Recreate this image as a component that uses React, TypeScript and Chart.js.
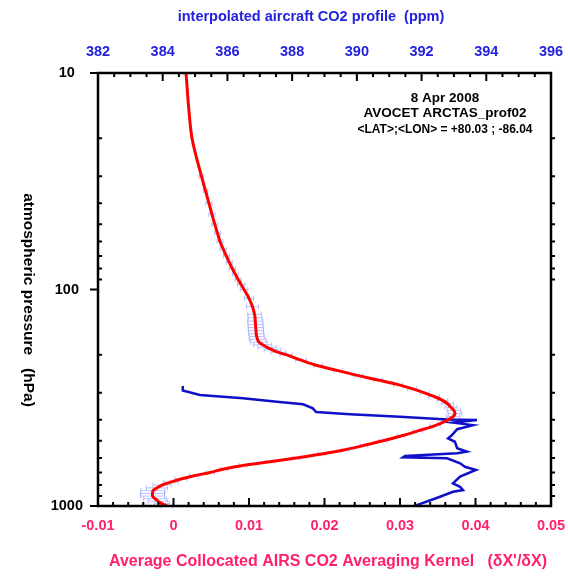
import React, { useEffect, useRef } from 'react';
import { Chart, registerables } from 'chart.js';

Chart.register(...registerables);

// Averaging kernel profile (bottom axis), pressure levels in hPa
const akPressure = [10, 15, 20, 30, 35, 40, 45, 50, 55, 60, 65, 70, 75, 80, 85, 90, 95, 100, 110, 120, 130, 135, 140, 145, 150, 155, 160, 165, 170, 175, 180, 185, 190, 195, 200, 212, 225, 237, 250, 262, 275, 287, 300, 312, 325, 337, 350, 362, 375, 387, 400, 425, 450, 475, 500, 525, 550, 575, 600, 625, 650, 675, 700, 725, 750, 775, 800, 825, 850, 875, 900, 925, 950, 975, 1000];
const akValues = [0.00166, 0.00205, 0.00245, 0.00371, 0.00424, 0.0047, 0.0051, 0.00547, 0.00583, 0.00616, 0.00658, 0.007, 0.00739, 0.00779, 0.00819, 0.00857, 0.00897, 0.00934, 0.01, 0.01046, 0.01073, 0.0108, 0.01083, 0.01086, 0.01089, 0.01093, 0.01095, 0.01103, 0.01113, 0.01132, 0.01182, 0.01238, 0.01311, 0.0139, 0.0149, 0.01689, 0.01914, 0.02179, 0.0245, 0.02709, 0.02974, 0.03159, 0.03325, 0.0345, 0.03563, 0.03629, 0.03675, 0.03715, 0.03728, 0.03702, 0.03636, 0.03464, 0.03238, 0.03013, 0.02775, 0.02523, 0.02272, 0.01967, 0.01623, 0.01278, 0.00921, 0.00669, 0.00483, 0.00272, 0.00099, -0.00033, -0.00152, -0.00219, -0.00272, -0.00278, -0.00278, -0.00245, -0.00205, -0.00152, -0.00086];
const akErrors = [0, 0, 0, 0.0003, 0.0003, 0.0004, 0.0004, 0.0004, 0.0004, 0.0004, 0.0004, 0.0004, 0.0004, 0.0004, 0.0004, 0.0004, 0.0005, 0.0005, 0.0006, 0.0008, 0.0009, 0.0009, 0.001, 0.001, 0.001, 0.001, 0.001, 0.001, 0.0011, 0.0011, 0.0012, 0.0012, 0.0011, 0.001, 0.0008, 0.0007, 0.0006, 0.0006, 0.0006, 0.0006, 0.0006, 0.0006, 0.0006, 0.0007, 0.0007, 0.0008, 0.0008, 0.0009, 0.0009, 0.0009, 0.0008, 0.0007, 0.0006, 0.0005, 0.0005, 0.0005, 0.0005, 0.0005, 0.0005, 0.0005, 0.0005, 0.0005, 0.0006, 0.0006, 0.0008, 0.001, 0.0012, 0.0014, 0.0016, 0.0016, 0.0016, 0.0015, 0.0013, 0.001, 0.0008];

// Interpolated aircraft CO2 profile (top axis)
const co2Pressure = [279, 293, 307, 318, 330, 339, 354, 368, 377, 387, 399, 401, 412, 423, 442, 470, 487, 505, 541, 561, 571, 588, 596, 602, 635, 659, 682, 732, 786, 815, 844, 859, 906, 990, 1000];
const co2Values = [384.62, 384.62, 385.15, 386.48, 387.53, 388.34, 388.64, 388.74, 389.79, 391.33, 392.79, 393.71, 392.97, 393.59, 393.1, 392.94, 392.82, 393.03, 393.1, 393.4, 393.1, 391.49, 391.43, 392.79, 393.19, 393.34, 393.68, 393.19, 392.97, 393.19, 393.28, 392.97, 392.57, 391.86, 391.83];

const kernelTicks = [-0.01, 0, 0.01, 0.02, 0.03, 0.04, 0.05];
const co2Ticks = [382, 384, 386, 388, 390, 392, 394, 396];
const pressureTicks = [10, 100, 1000];

const topTitle = 'interpolated aircraft CO2 profile  (ppm)';
const bottomTitle = "Average Collocated AIRS CO2 Averaging Kernel   (\u03B4X'/\u03B4X)";
const yTitle = 'atmospheric pressure   (hPa)';
const annotationLines = ['8 Apr 2008', 'AVOCET ARCTAS_prof02', '<LAT>;<LON> = +80.03 ; -86.04'];

const FAMILY = '"Liberation Sans", Arial, Helvetica, sans-serif';
const BLUE = '#2222dd';
const PINK = '#ff1f6a';
const RED = '#ff0000';
const LINE_BLUE = '#1010c8';
const ERR_COLOR = 'rgba(150,160,255,0.65)';

const errorBarsPlugin = {
  id: 'errorBars',
  beforeDatasetsDraw(chart: any) {
    const { ctx, scales } = chart;
    const xs = scales.x;
    const ys = scales.y;
    ctx.save();
    ctx.strokeStyle = ERR_COLOR;
    ctx.lineWidth = 1;
    ctx.beginPath();
    akPressure.forEach((p, i) => {
      const e = akErrors[i];
      if (!e) return;
      const py = ys.getPixelForValue(p);
      const x1 = xs.getPixelForValue(akValues[i] - e);
      const x2 = xs.getPixelForValue(akValues[i] + e);
      ctx.moveTo(x1, py);
      ctx.lineTo(x2, py);
      ctx.moveTo(x1, py - 2.5);
      ctx.lineTo(x1, py + 2.5);
      ctx.moveTo(x2, py - 2.5);
      ctx.lineTo(x2, py + 2.5);
    });
    ctx.stroke();
    ctx.restore();
  },
};

const frameTicksPlugin = {
  id: 'frameTicks',
  afterDatasetsDraw(chart: any) {
    const { ctx, chartArea: a, scales } = chart;
    const xs = scales.x;
    const xt = scales.x2;
    const ys = scales.y;
    ctx.save();
    ctx.strokeStyle = '#000';
    ctx.lineCap = 'butt';
    ctx.lineWidth = 2;
    ctx.beginPath();
    for (let i = 0; i <= 30; i++) {
      const px = xs.getPixelForValue(-0.01 + i * 0.002);
      const len = i % 5 === 0 ? 8 : 4;
      ctx.moveTo(px, a.bottom);
      ctx.lineTo(px, a.bottom - len);
    }
    for (let i = 0; i <= 28; i++) {
      const px = xt.getPixelForValue(382 + i * 0.5);
      const len = i % 4 === 0 ? 8 : 4;
      ctx.moveTo(px, a.top);
      ctx.lineTo(px, a.top + len);
    }
    for (const dec of [10, 100]) {
      for (let m = 2; m <= 9; m++) {
        const py = ys.getPixelForValue(dec * m);
        ctx.moveTo(a.left, py);
        ctx.lineTo(a.left + 4, py);
        ctx.moveTo(a.right, py);
        ctx.lineTo(a.right + 4, py);
      }
    }
    for (const v of pressureTicks) {
      const py = ys.getPixelForValue(v);
      ctx.moveTo(a.left - 8, py);
      ctx.lineTo(a.left, py);
    }
    ctx.stroke();
    ctx.lineWidth = 2.5;
    ctx.strokeRect(a.left, a.top, a.right - a.left, a.bottom - a.top);
    ctx.restore();
  },
};

const textPlugin = {
  id: 'texts',
  afterDraw(chart: any) {
    const { ctx } = chart;
    ctx.save();
    ctx.textBaseline = 'middle';
    ctx.textAlign = 'center';
    ctx.font = `bold 14.5px ${FAMILY}`;
    ctx.fillStyle = BLUE;
    ctx.fillText(topTitle, 311, 17);
    ctx.font = `bold 16px ${FAMILY}`;
    ctx.fillStyle = PINK;
    ctx.fillText(bottomTitle, 328, 562);
    ctx.fillStyle = '#000';
    ctx.save();
    ctx.translate(28, 300);
    ctx.rotate(Math.PI / 2);
    ctx.font = `bold 15.5px ${FAMILY}`;
    ctx.fillText(yTitle, 0, 0);
    ctx.restore();
    ctx.font = `bold 13.5px ${FAMILY}`;
    annotationLines.forEach((t, i) => {
      ctx.fillText(t, 445, 98 + i * 15.5, 175);
    });
    ctx.restore();
  },
};

const tickFont = { family: FAMILY, size: 14.5, weight: 'bold' as const };

const fitHorizontal = (h: number) => (s: any) => {
  s.height = h;
  s.paddingLeft = 0;
  s.paddingRight = 0;
};

export default function App() {
  const ref = useRef<HTMLCanvasElement | null>(null);
  useEffect(() => {
    if (!ref.current) return;
    const chart = new Chart(ref.current, {
      type: 'scatter',
      data: {
        datasets: [
          {
            label: 'Averaging kernel',
            data: akPressure.map((p, i) => ({ x: akValues[i], y: p })),
            xAxisID: 'x',
            yAxisID: 'y',
            showLine: true,
            borderColor: RED,
            backgroundColor: RED,
            borderWidth: 3,
            pointRadius: 0,
            cubicInterpolationMode: 'monotone',
          },
          {
            label: 'CO2 profile',
            data: co2Pressure.map((p, i) => ({ x: co2Values[i], y: p })),
            xAxisID: 'x2',
            yAxisID: 'y',
            showLine: true,
            borderColor: LINE_BLUE,
            backgroundColor: LINE_BLUE,
            borderWidth: 2.5,
            pointRadius: 0,
            tension: 0,
          },
        ],
      },
      options: {
        animation: false,
        responsive: false,
        devicePixelRatio: 1,
        indexAxis: 'y',
        layout: { padding: { left: 0, right: 17, top: 0, bottom: 0 } },
        plugins: { legend: { display: false }, tooltip: { enabled: false }, title: { display: false } },
        scales: {
          x: {
            type: 'linear',
            position: 'bottom',
            min: -0.01,
            max: 0.05,
            afterBuildTicks: (s: any) => {
              s.ticks = kernelTicks.map((v) => ({ value: v }));
            },
            afterFit: fitHorizontal(71),
            ticks: {
              color: PINK,
              font: tickFont,
              padding: 11,
              maxRotation: 0,
              autoSkip: false,
              callback: (v: any) => String(Number(Number(v).toFixed(2))),
            },
            grid: { display: false, drawTicks: false },
            border: { display: false },
          },
          x2: {
            type: 'linear',
            position: 'top',
            min: 382,
            max: 396,
            afterBuildTicks: (s: any) => {
              s.ticks = co2Ticks.map((v) => ({ value: v }));
            },
            afterFit: fitHorizontal(73),
            ticks: {
              color: BLUE,
              font: tickFont,
              padding: 12,
              maxRotation: 0,
              autoSkip: false,
              callback: (v: any) => String(v),
            },
            grid: { display: false, drawTicks: false },
            border: { display: false },
          },
          y: {
            type: 'logarithmic',
            position: 'left',
            reverse: true,
            min: 10,
            max: 1000,
            afterBuildTicks: (s: any) => {
              s.ticks = pressureTicks.map((v) => ({ value: v }));
            },
            afterFit: (s: any) => {
              s.width = 98;
              s.paddingTop = 0;
              s.paddingBottom = 0;
            },
            ticks: {
              color: '#000',
              font: tickFont,
              padding: 15,
              crossAlign: 'center',
              autoSkip: false,
              callback: (v: any) => String(v),
            },
            grid: { display: false, drawTicks: false },
            border: { display: false },
          },
        },
      },
      plugins: [errorBarsPlugin, frameTicksPlugin, textPlugin],
    });
    return () => chart.destroy();
  }, []);
  return (
    <div style={{ position: 'absolute', left: 0, top: 0, width: 568, height: 577, background: '#fff' }}>
      <canvas ref={ref} width={568} height={577} style={{ display: 'block' }} />
    </div>
  );
}
